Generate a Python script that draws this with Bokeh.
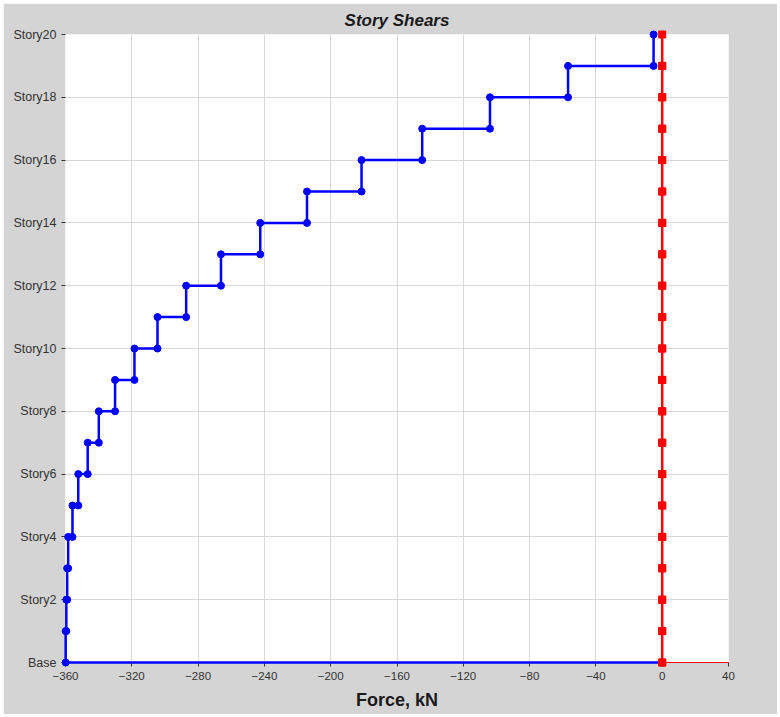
from bokeh.plotting import figure
from bokeh.models import FixedTicker, Range1d
from bokeh.embed import file_html
from bokeh.resources import INLINE

# Story levels (0 = Base) and story shear in kN, from Story20 down to Story1
story_levels = list(range(20, -1, -1))
shear_x = [-5.2, -56.8, -103.9, -144.8, -181.4, -214.3, -242.5, -266.2, -287.2,
           -304.5, -318.4, -330.1, -339.9, -346.6, -352.3, -355.8, -358.4,
           -359.0, -359.5, -359.9]
shear_y = [0.0] * 20

y_ticks = list(range(0, 21, 2))
y_tick_labels = ["Base"] + [f"Story{i}" for i in range(2, 21, 2)]
x_ticks = list(range(-360, 41, 40))

GRAY = "#d4d4d4"
FONT = "Liberation Sans"


def step_profile(values):
    """Shear profile: constant over each story, stepping at floor levels."""
    xs, ys = [], []
    for v, top in zip(values, story_levels[:-1]):
        xs += [v, v]
        ys += [top, top - 1]
    xs.append(0.0)
    ys.append(0)
    return xs, ys


p = figure(width=774, height=711, output_backend="svg", toolbar_location=None,
           x_range=Range1d(-360, 40), y_range=Range1d(0, 20),
           title="Story Shears", x_axis_label="Force, kN")
p.margin = (3, 3, 3, 3)
p.min_border_left = 62
p.min_border_right = 49
p.min_border_top = 31
p.min_border_bottom = 52

p.background_fill_color = "white"
p.border_fill_color = GRAY
p.outline_line_color = None

p.title.align = "center"
p.title.text_font = FONT
p.title.text_font_size = "17px"
p.title.text_font_style = "bold italic"
p.title.text_color = "#1a1a1a"
p.title.offset = 12
p.title.standoff = 10

p.xaxis.ticker = FixedTicker(ticks=x_ticks)
p.yaxis.ticker = FixedTicker(ticks=y_ticks)
p.yaxis.major_label_overrides = {t: lab for t, lab in zip(y_ticks, y_tick_labels)}

for ax in (p.xaxis[0], p.yaxis[0]):
    ax.major_label_text_font = FONT
    ax.major_label_text_color = "#333333"
    ax.major_tick_line_color = "#333333"
    ax.major_tick_out = 4
    ax.major_tick_in = 0
    ax.minor_tick_line_color = None
    ax.major_label_standoff = 5
p.xaxis.major_label_text_font_size = "11.5px"
p.yaxis.major_label_text_font_size = "12.5px"

p.xaxis.axis_line_color = "red"
p.xaxis.axis_line_width = 1
p.yaxis.axis_line_color = None
p.xaxis.axis_label_text_font = FONT
p.xaxis.axis_label_text_font_size = "18px"
p.xaxis.axis_label_text_font_style = "bold"
p.xaxis.axis_label_text_color = "#1a1a1a"
p.xaxis.axis_label_standoff = 7

p.xgrid.grid_line_color = "#d8d8d8"
p.ygrid.grid_line_color = "#d8d8d8"

# Draw the profiles above the frame clip so end markers stay whole
bx, by = step_profile(shear_x)
p.line(bx, by, line_color="blue", line_width=2.5, level="overlay")
p.scatter(bx, by, marker="circle", size=7, fill_color="blue", line_color="blue",
          level="overlay")

rx, ry = step_profile(shear_y)
p.line(rx, ry, line_color="red", line_width=2.5, level="overlay")
p.scatter(rx, ry, marker="square", size=7, fill_color="red", line_color="red",
          level="overlay")

open("out.html", "w").write(file_html(p, INLINE))
